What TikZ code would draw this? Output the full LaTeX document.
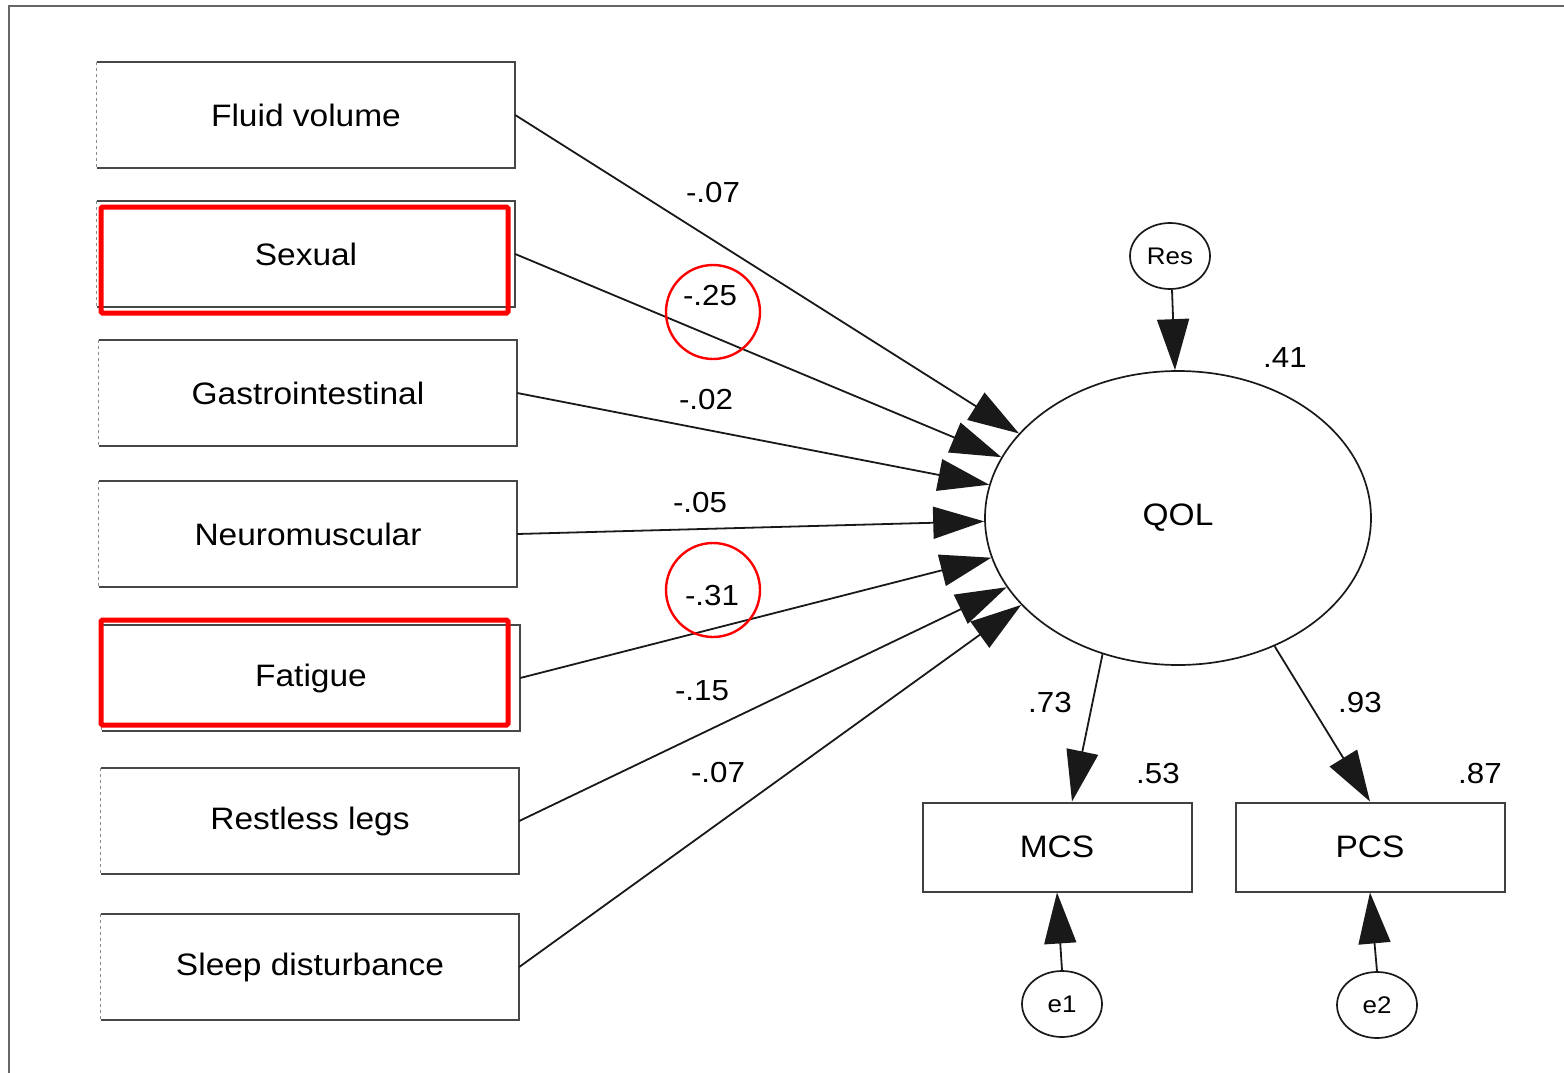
\documentclass[tikz,border=0pt]{standalone}
\usepackage{fontspec}
\setmainfont{Liberation Sans}[FakeStretch=1.08]
\usetikzlibrary{arrows.meta,shapes.geometric}
\begin{document}
\begin{tikzpicture}[x=1pt,y=-1pt,
  boxtext/.style={font=\fontsize{31}{35}\selectfont},
  obsbox/.style={rectangle, draw=none, minimum width=418pt, minimum height=106pt, inner sep=0pt, boxtext},
  outbox/.style={rectangle, draw=black!75, line width=2pt, minimum width=269pt, minimum height=89pt, inner sep=0pt, boxtext},
  boxline/.style={draw=black!72, line width=2.2pt},
  boxleft/.style={draw=black!45, line width=1.3pt, dashed},
  latent/.style={ellipse, draw=black!90, line width=1.7pt, minimum width=386pt, minimum height=294pt, inner sep=0pt, boxtext},
  errnode/.style={ellipse, draw=black!90, line width=1.7pt, minimum width=80pt, minimum height=66pt, inner sep=0pt, font=\fontsize{24}{27}\selectfont},
  path/.style={draw=black!90, line width=1.8pt, -{Triangle[length=51pt,width=32pt]}},
  lbl/.style={font=\fontsize{29}{32}\selectfont, inner sep=0pt},
  redbox/.style={draw=red, line width=5pt, rounded corners=1.5pt},
  redring/.style={circle, draw=red, line width=2.4pt, minimum size=94pt, inner sep=0pt}
]
\useasboundingbox (0,0) rectangle (1564,1073);
\draw[black!60, line width=2pt] (9,1073) -- (9,6) -- (1564,6);

% observed predictors
\node[obsbox] (fluid)   at (306,115) {Fluid volume};
\node[obsbox] (sexual)  at (306,254) {Sexual};
\node[obsbox] (gastro)  at (308,393) {Gastrointestinal};
\node[obsbox] (neuro)   at (308,534) {Neuromuscular};
\node[obsbox] (fatigue) at (311,678) {Fatigue};
\node[obsbox] (restless) at (310,821) {Restless legs};
\node[obsbox] (sleep)   at (310,967) {Sleep disturbance};
\foreach \n in {fluid,sexual,gastro,neuro,fatigue,restless,sleep}{
  \draw[boxline] (\n.north west) -- (\n.north east) -- (\n.south east) -- (\n.south west);
  \draw[boxleft] (\n.north west) -- (\n.south west);
}

% latent and outcomes
\node[latent] (qol) at (1178,518) {QOL};
\node[errnode] (res) at (1170,256) {Res};
\node[outbox] (mcs) at (1057,847) {MCS};
\node[outbox] (pcs) at (1370,847) {PCS};
\node[errnode] (e1) at (1062,1004) {e1};
\node[errnode] (e2) at (1377,1005) {e2};

% paths
\draw[path] (fluid.east) -- (qol.152.9);
\draw[path] (sexual.east) -- (qol.161.1);
\draw[path] (gastro.east) -- (qol.170.9);
\draw[path] (neuro.east) -- (qol.181.2);
\draw[path] (fatigue.east) -- (qol.192.6);
\draw[path] (restless.east) -- (qol.202.4);
\draw[path] (sleep.east) -- (qol.209.4);
\draw[path] ([xshift=2pt]res.south) -- ([xshift=-3pt]qol.north);
\draw[path] (qol.241) -- ([xshift=15pt]mcs.north);
\draw[path] (qol.307.8) -- (pcs.north);
\draw[path] (e1.north) -- (mcs.south);
\draw[path] (e2.north) -- (pcs.south);

% coefficients
\node[lbl] (l1) at (713,193) {-.07};
\node[lbl] (l2) at (710,296) {-.25};
\node[lbl] (l3) at (706,400) {-.02};
\node[lbl] (l4) at (700,503) {-.05};
\node[lbl] (l5) at (712,596) {-.31};
\node[lbl] (l6) at (702,691) {-.15};
\node[lbl] (l7) at (718,773) {-.07};
\node[lbl] (r41) at (1285,358) {.41};
\node[lbl] (r73) at (1050,703) {.73};
\node[lbl] (r93) at (1360,703) {.93};
\node[lbl] (r53) at (1158,774) {.53};
\node[lbl] (r87) at (1480,774) {.87};

% red annotations
\draw[redbox] (101,207) rectangle (508,313);
\draw[redbox] (101,620) rectangle (508,725);
\node[redring] (c25) at (713,312) {};
\node[redring] (c31) at (713,590) {};
\end{tikzpicture}
\end{document}
